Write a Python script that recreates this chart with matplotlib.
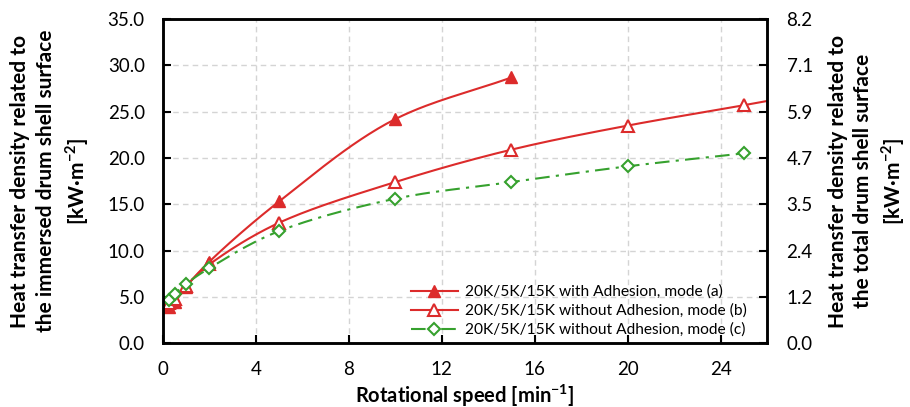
import matplotlib
matplotlib.use("Agg")
import matplotlib.pyplot as plt
import numpy as np

plt.rcParams['font.family'] = ['Lato', 'DejaVu Sans']
plt.rcParams['mathtext.fontset'] = 'custom'
plt.rcParams['mathtext.rm'] = 'Lato'
plt.rcParams['mathtext.bf'] = 'Lato:bold'

# data
speed_a = [0.25, 0.5, 1, 2, 5, 10, 15]
heat_a = [3.9, 4.4, 6.1, 8.8, 15.3, 24.2, 28.7]

speed_b = [0.25, 0.5, 1, 2, 5, 10, 15, 20, 25, 30]
heat_b = [4.3, 4.8, 6.2, 8.5, 13.0, 17.4, 20.9, 23.5, 25.7, 28.0]

speed_c = [0.25, 0.5, 1, 2, 5, 10, 15, 20, 25]
heat_c = [4.7, 5.3, 6.4, 8.1, 12.1, 15.6, 17.4, 19.1, 20.5]

left_ticks = [0, 5, 10, 15, 20, 25, 30, 35]
right_labels = ['0.0', '1.2', '2.4', '3.5', '4.7', '5.9', '7.1', '8.2']
x_ticks = [0, 4, 8, 12, 16, 20, 24]

labels = ['20K/5K/15K with Adhesion, mode (a)',
          '20K/5K/15K without Adhesion, mode (b)',
          '20K/5K/15K without Adhesion, mode (c)']

red = '#dc2b2b'
green = '#36a12e'


def smooth(xs, ys, sx=26.0, sy=35.0, n=30):
    # centripetal catmull-rom through the points, like a spreadsheet smoothed line
    p = np.column_stack([np.asarray(xs) / sx, np.asarray(ys) / sy])
    p = np.vstack([2 * p[0] - p[1], p, 2 * p[-1] - p[-2]])
    out = []
    for i in range(1, len(p) - 2):
        p0, p1, p2, p3 = p[i - 1], p[i], p[i + 1], p[i + 2]
        t0 = 0.0
        t1 = t0 + np.linalg.norm(p1 - p0) ** 0.5
        t2 = t1 + np.linalg.norm(p2 - p1) ** 0.5
        t3 = t2 + np.linalg.norm(p3 - p2) ** 0.5
        t = np.linspace(t1, t2, n)[:, None]
        a1 = (t1 - t) / (t1 - t0) * p0 + (t - t0) / (t1 - t0) * p1
        a2 = (t2 - t) / (t2 - t1) * p1 + (t - t1) / (t2 - t1) * p2
        a3 = (t3 - t) / (t3 - t2) * p2 + (t - t2) / (t3 - t2) * p3
        b1 = (t2 - t) / (t2 - t0) * a1 + (t - t0) / (t2 - t0) * a2
        b2 = (t3 - t) / (t3 - t1) * a2 + (t - t1) / (t3 - t1) * a3
        c = (t2 - t) / (t2 - t1) * b1 + (t - t1) / (t2 - t1) * b2
        out.append(c)
    out = np.vstack(out)
    return out[:, 0] * sx, out[:, 1] * sy


fig = plt.figure(figsize=(9.1, 4.07), dpi=100)
ax = fig.add_axes([0.179, 0.157, 0.664, 0.796])

dash_dot = (0, (7, 3, 1.5, 3))

xs, ys = smooth(speed_a, heat_a)
ax.plot(xs, ys, color=red, lw=1.5)
ax.plot(speed_a, heat_a, ls='none', marker='^', ms=9, color=red)
xs, ys = smooth(speed_b, heat_b)
ax.plot(xs, ys, color=red, lw=1.5)
ax.plot(speed_b, heat_b, ls='none', marker='^', ms=8.5, mfc='white', mec=red, mew=1.5)
xs, ys = smooth(speed_c, heat_c)
ax.plot(xs, ys, color=green, lw=1.5, ls=dash_dot)
ax.plot(speed_c, heat_c, ls='none', marker='D', ms=6.5, mfc='white', mec=green, mew=1.5)

# legend proxies
ax.plot([], [], color=red, lw=1.5, marker='^', ms=9, label=labels[0])
ax.plot([], [], color=red, lw=1.5, marker='^', ms=8.5, mfc='white', mew=1.5, label=labels[1])
ax.plot([], [], color=green, lw=1.5, ls=dash_dot, marker='D', ms=6, mfc='white', mew=1.5, label=labels[2])

ax.set_xlim(0, 26)
ax.set_ylim(0, 35)
ax.set_xticks(x_ticks)
ax.set_yticks(left_ticks)
ax.set_yticklabels([f'{v:.1f}' for v in left_ticks])
ax.grid(True, color='#d4d4d4', ls=(0, (4, 3)), lw=1)
ax.set_axisbelow(True)
ax.tick_params(axis='y', direction='in', labelsize=13.5, length=6, width=1.5, pad=13)
ax.tick_params(axis='x', direction='in', labelsize=13.5, length=6, width=1.5, pad=13)
for s in ax.spines.values():
    s.set_linewidth(1.8)
    s.set_color('black')

ax.set_xlabel('Rotational speed [min$^{\\mathbf{-1}}$]', fontsize=14.5, fontweight='bold', labelpad=3)
ax.set_ylabel('Heat transfer density related to\nthe immersed drum shell surface\n[kW·m$^{\\mathbf{-2}}$]',
              fontsize=15, fontweight='bold', labelpad=12, linespacing=1.35)

ax2 = ax.twinx()
ax2.set_ylim(0, 35)
ax2.set_yticks(left_ticks)
ax2.set_yticklabels(right_labels)
ax2.tick_params(direction='in', labelsize=13.5, length=6, width=1.5, pad=14)
for s in ax2.spines.values():
    s.set_linewidth(1.8)
ax2.set_ylabel('Heat transfer density related to\nthe total drum shell surface\n[kW·m$^{\\mathbf{-2}}$]',
               fontsize=15, fontweight='bold', labelpad=11, linespacing=1.3)

ax.legend(loc='lower right', bbox_to_anchor=(0.985, -0.015), frameon=False, fontsize=11.2,
          handlelength=3.0, labelspacing=0.3, borderaxespad=0.3, handletextpad=0.5)

fig.savefig('out.png', dpi=100)
